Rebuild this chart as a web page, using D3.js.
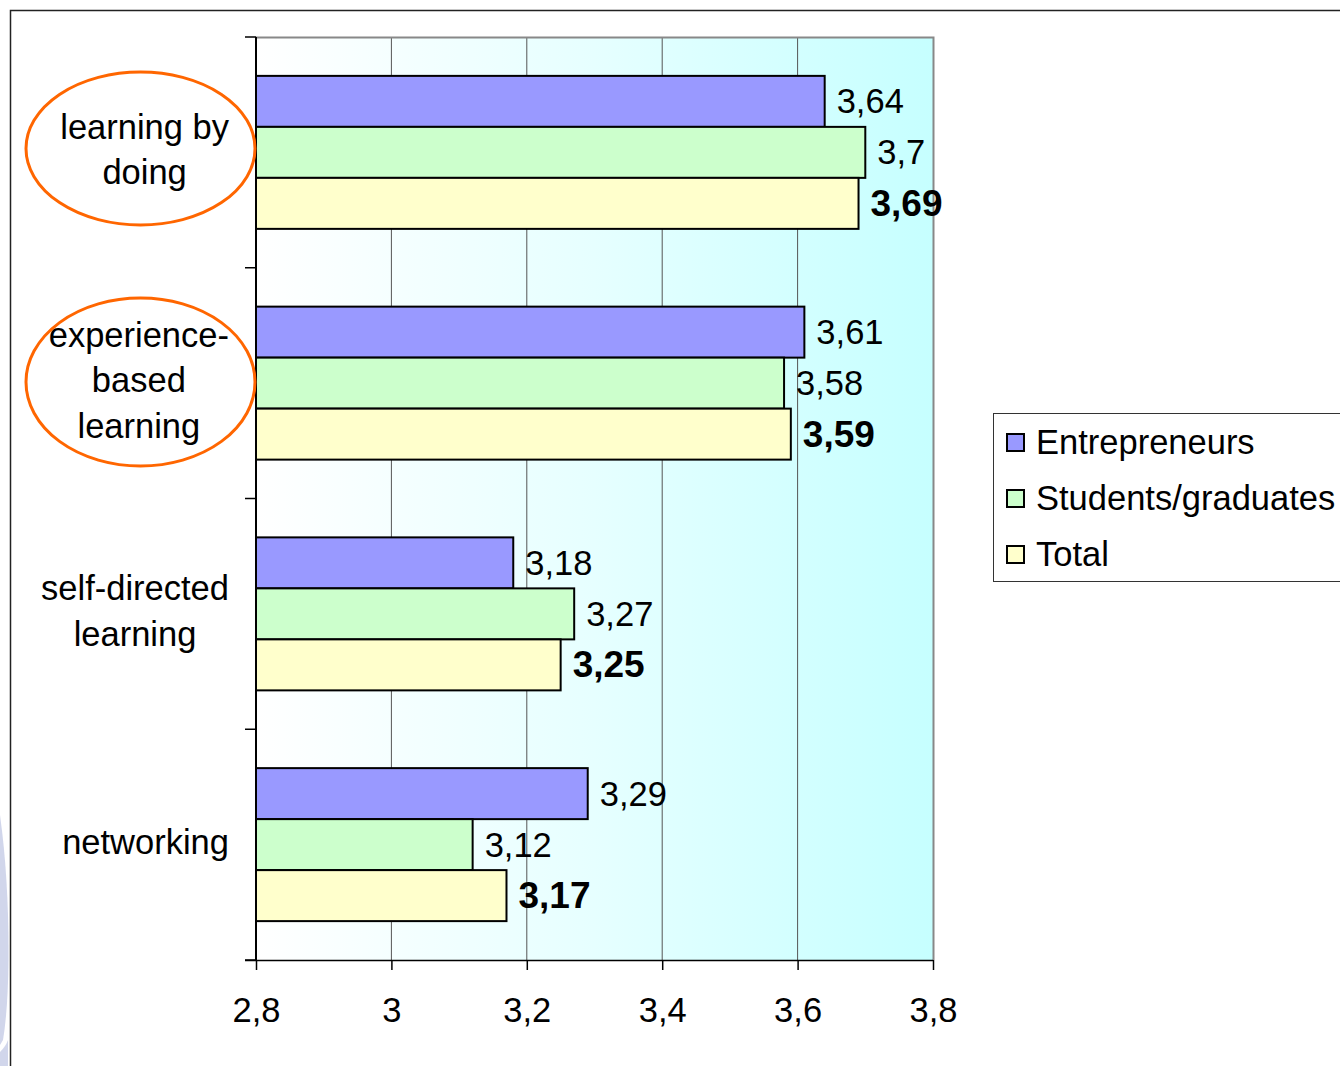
<!DOCTYPE html>
<html><head><meta charset="utf-8">
<script src="https://cdn.jsdelivr.net/npm/d3@7"></script>
<style>body{margin:0;background:#fff}svg{display:block}text{font-family:"Liberation Sans",Arial,sans-serif}</style>
</head><body>
<script>
const categories = [["learning by","doing"],["experience-","based","learning"],["self-directed","learning"],["networking"]];
const seriesNames = ["Entrepreneurs","Students/graduates","Total"];
const entrepreneurs = [3.64,3.61,3.18,3.29];
const students = [3.7,3.58,3.27,3.12];
const total = [3.69,3.59,3.25,3.17];
const xTicks = [2.8,3,3.2,3.4,3.6,3.8];
const circled = [0,1];

(function(){
const series = [entrepreneurs, students, total];
const colors = ["#9999ff","#ccffcc","#ffffcc"];
const W = 1340, H = 1066;
const svg = d3.select("body").append("svg").attr("width",W).attr("height",H);
const defs = svg.append("defs");
const grad = defs.append("linearGradient").attr("id","bg").attr("x1","0").attr("x2","1").attr("y1","0").attr("y2","0");
grad.append("stop").attr("offset","0").attr("stop-color","#ffffff");
grad.append("stop").attr("offset","0.5").attr("stop-color","#e6ffff");
grad.append("stop").attr("offset","1").attr("stop-color","#c6ffff");

// faint slide background remnant at left edge
svg.append("path").attr("d","M0,815 Q9,880 8.5,960 Q8,1010 3,1040 L0,1045 Z").attr("fill","#c9cfe8").attr("opacity",0.85);
svg.append("path").attr("d","M0,1052 Q6,1046 8,1040 L8,1066 L0,1066 Z").attr("fill","#c9cfe8").attr("opacity",0.85);

// outer frame
svg.append("path").attr("d","M10.5,1066 V10.5 H1340").attr("fill","none").attr("stroke","#222").attr("stroke-width",1.5);

const pL = 256, pR = 933, pT = 37, pB = 960;
const x = d3.scaleLinear().domain([2.8,3.8]).range([pL,pR]);
const y = d3.scaleBand().domain(d3.range(categories.length)).range([pT,pB]).paddingInner(0.337).paddingOuter(0.1685);
const yb = d3.scaleBand().domain(d3.range(series.length)).range([0,y.bandwidth()]);
const yCat = d3.scaleBand().domain(d3.range(categories.length)).range([pT,pB]);

svg.append("rect").attr("x",pL).attr("y",pT).attr("width",pR-pL).attr("height",pB-pT).attr("fill","url(#bg)");
// gridlines
svg.append("g").selectAll("line").data(xTicks.slice(1,-1)).join("line")
  .attr("x1",d=>x(d)).attr("x2",d=>x(d)).attr("y1",pT).attr("y2",pB)
  .attr("stroke","#555").attr("stroke-width",1);
// plot border top/right
svg.append("path").attr("d",`M${pL},${pT+0.5} H${pR+0.5} V${pB}`).attr("fill","none").attr("stroke","#888").attr("stroke-width",2);

// bars
categories.forEach((c,i)=>{
  series.forEach((s,j)=>{
    const y0 = y(i)+yb(j);
    svg.append("rect").attr("x",x(2.8)).attr("y",y0).attr("width",x(s[i])-x(2.8)).attr("height",yb.bandwidth())
      .attr("fill",colors[j]).attr("stroke","#000").attr("stroke-width",2);
    svg.append("text").attr("x",x(s[i])+12).attr("y",y0+yb.bandwidth()/2).attr("dominant-baseline","central")
      .attr("font-size",j===2?37:34.5).attr("font-weight",j===2?"bold":"normal").attr("fill","#000")
      .text(String(s[i]).replace(".",","));
  });
});

// axes
const xAxis = d3.axisBottom(x).tickValues(xTicks).tickSize(10).tickPadding(28).tickFormat(d=>String(d).replace(".",","));
const gx = svg.append("g").attr("transform",`translate(0,${pB})`).call(xAxis);
gx.select(".domain").attr("d",`M${pL-11},0.5H${pR}`).attr("stroke","#000").attr("stroke-width",1.5);
gx.selectAll(".tick line").attr("stroke","#000").attr("stroke-width",1.5);
gx.selectAll(".tick text").attr("font-size",34.5).attr("fill","#000").attr("font-family","Liberation Sans, Arial, sans-serif");

const yTicks = d3.range(categories.length+1).map(i=>pT+i*yCat.step());
svg.append("line").attr("x1",pL).attr("x2",pL).attr("y1",pT).attr("y2",pB).attr("stroke","#000").attr("stroke-width",2);
svg.append("g").selectAll("line").data(yTicks).join("line")
  .attr("x1",pL-11).attr("x2",pL).attr("y1",d=>d).attr("y2",d=>d).attr("stroke","#000").attr("stroke-width",1.5);

// category labels
const labelRight = 229, lh = 45.5;
categories.forEach((lines,i)=>{
  const cy = yCat(i)+yCat.bandwidth()/2 - 3;
  const g = svg.append("g");
  const ts = lines.map((l,k)=>g.append("text").attr("y",cy+(k-(lines.length-1)/2)*lh).attr("dominant-baseline","central")
    .attr("font-size",34.5).attr("text-anchor","middle").attr("fill","#000").text(l));
  const maxW = d3.max(ts,t=>t.node().getComputedTextLength());
  ts.forEach(t=>t.attr("x",labelRight-maxW/2));
});

// orange ellipses
const ell = [{cx:140.5,cy:148.5,rx:114.5,ry:76.5},{cx:140.5,cy:382,rx:114.5,ry:84}];
circled.forEach((ci,k)=>{
  const e = ell[k];
  svg.append("ellipse").attr("cx",e.cx).attr("cy",e.cy).attr("rx",e.rx).attr("ry",e.ry)
    .attr("fill","none").attr("stroke","#ff6600").attr("stroke-width",3);
});

// legend
const lg = svg.append("g");
lg.append("rect").attr("x",993.5).attr("y",413.5).attr("width",360).attr("height",168).attr("fill","#fff").attr("stroke","#333").attr("stroke-width",1);
seriesNames.forEach((n,j)=>{
  const cy = 442 + j*56;
  lg.append("rect").attr("x",1007).attr("y",cy-8).attr("width",17).attr("height",17).attr("fill",colors[j]).attr("stroke","#000").attr("stroke-width",2);
  lg.append("text").attr("x",1036).attr("y",cy).attr("dominant-baseline","central").attr("font-size",34.5).attr("fill","#000").text(n);
});
})();
</script>
</body></html>
